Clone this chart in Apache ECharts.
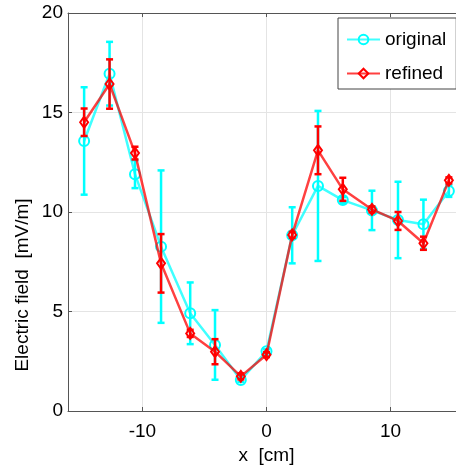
<!DOCTYPE html>
<html>
<head>
<meta charset="utf-8">
<script src="https://cdn.jsdelivr.net/npm/echarts@6.0.0/dist/echarts.min.js"></script>
<style>
html,body{margin:0;padding:0;background:#fff;}
#chart{width:456px;height:465px;}
</style>
</head>
<body>
<div id="chart"></div>
<script>
// ---- data ----
const xPositions = [-14.7, -12.65, -10.6, -8.5, -6.15, -4.15, -2.07, 0, 2.07, 4.15, 6.15, 8.5, 10.6, 12.65, 14.7];
const originalValues = [13.57, 16.95, 11.9, 8.26, 4.91, 3.32, 1.56, 3.0, 8.83, 11.31, 10.6, 10.08, 9.6, 9.38, 11.06];
const originalErrors = [2.7, 1.6, 0.7, 3.83, 1.55, 1.75, 0.1, 0.1, 1.41, 3.77, 0.15, 0.99, 1.92, 1.24, 0.3];
const refinedValues = [14.51, 16.43, 12.96, 7.42, 3.9, 2.98, 1.74, 2.83, 8.85, 13.1, 11.14, 10.13, 9.55, 8.43, 11.59];
const refinedErrors = [0.69, 1.24, 0.32, 1.47, 0.18, 0.63, 0.15, 0.12, 0.15, 1.2, 0.58, 0.15, 0.45, 0.33, 0.15];
const xTicks = [-10, 0, 10];
const yTicks = [0, 5, 10, 15, 20];
const seriesNames = ['original', 'refined'];
const xLabel = 'x  [cm]';
const yLabel = 'Electric field  [mV/m]';

const FONT = 'Liberation Sans, Arial, Helvetica, sans-serif';
const CYAN = '#00ffff';
const RED = '#ff0000';

function lineData(vals) { return xPositions.map((x, i) => [x, vals[i]]); }
function errData(vals, errs) { return xPositions.map((x, i) => [x, vals[i] - errs[i], vals[i] + errs[i]]); }

function errRender(color) {
  return function (params, api) {
    const x = api.value(0), lo = api.value(1), hi = api.value(2);
    const pLo = api.coord([x, lo]);
    const pHi = api.coord([x, hi]);
    const cap = 3.5;
    const st = { stroke: color, lineWidth: 2.5, fill: null };
    return {
      type: 'group',
      children: [
        { type: 'line', shape: { x1: pLo[0], y1: pLo[1], x2: pHi[0], y2: pHi[1] }, style: st },
        { type: 'line', shape: { x1: pLo[0] - cap, y1: pLo[1], x2: pLo[0] + cap, y2: pLo[1] }, style: st },
        { type: 'line', shape: { x1: pHi[0] - cap, y1: pHi[1], x2: pHi[0] + cap, y2: pHi[1] }, style: st }
      ]
    };
  };
}

const chart = echarts.init(document.getElementById('chart'), null, { renderer: 'canvas' });
const axisColor = '#555';
const gridColor = '#e4e4e4';

const option = {
  animation: false,
  backgroundColor: '#fff',
  textStyle: { fontFamily: FONT },
  grid: { left: 68, top: 13, width: 397, height: 398, containLabel: false, outerBoundsMode: 'none' },
  legend: {
    data: seriesNames,
    left: 338, top: 18,
    orient: 'vertical',
    backgroundColor: '#fff',
    borderColor: '#444', borderWidth: 1,
    padding: [12, 10, 6, 8],
    itemWidth: 33, itemHeight: 12, itemGap: 15,
    textStyle: { fontSize: 19, color: '#000', fontFamily: FONT }
  },
  xAxis: [
    {
      type: 'value', min: -16, max: 16, position: 'bottom',
      name: xLabel, nameLocation: 'middle', nameGap: 27,
      nameTextStyle: { fontSize: 19, color: '#000', fontFamily: FONT },
      axisLine: { show: true, onZero: false, lineStyle: { color: axisColor, width: 1 } },
      axisTick: { show: true, inside: true, length: 4, customValues: xTicks, lineStyle: { color: axisColor } },
      axisLabel: { customValues: xTicks, fontSize: 19, color: '#000', margin: 11, fontFamily: FONT },
      splitLine: { show: true, customValues: xTicks, lineStyle: { color: gridColor, width: 1 } }
    },
    {
      type: 'value', min: -16, max: 16, position: 'top',
      axisLine: { show: true, onZero: false, lineStyle: { color: axisColor, width: 1 } },
      axisTick: { show: true, inside: true, length: 4, customValues: xTicks, lineStyle: { color: axisColor } },
      axisLabel: { show: false },
      splitLine: { show: false }
    }
  ],
  yAxis: [
    {
      type: 'value', min: 0, max: 20, interval: 5,
      axisLine: { show: true, onZero: false, lineStyle: { color: axisColor, width: 1 } },
      axisTick: { show: true, inside: true, length: 4, lineStyle: { color: axisColor } },
      axisLabel: { fontSize: 19, color: '#000', margin: 5, fontFamily: FONT },
      splitLine: { show: true, lineStyle: { color: gridColor, width: 1 } }
    }
  ],
  graphic: [
    {
      type: 'text', x: 23, y: 285, rotation: Math.PI / 2,
      style: { text: yLabel, font: '19px ' + FONT, fill: '#000', align: 'center', verticalAlign: 'middle' }
    }
  ],
  series: [
    {
      name: seriesNames[0], type: 'line', data: lineData(originalValues), z: 2,
      symbol: 'circle', symbolSize: 10, showSymbol: true,
      lineStyle: { color: CYAN, width: 2.5, opacity: 0.75 },
      itemStyle: { color: 'rgba(255,255,255,0)', borderColor: CYAN, borderWidth: 2 },
      emphasis: { disabled: true }
    },
    {
      name: 'original-err', type: 'custom', data: errData(originalValues, originalErrors), z: 3,
      renderItem: errRender(CYAN), silent: true
    },
    {
      name: seriesNames[1], type: 'line', data: lineData(refinedValues), z: 4,
      symbol: 'diamond', symbolSize: [8, 11], showSymbol: true,
      lineStyle: { color: RED, width: 2.5, opacity: 0.75 },
      itemStyle: { color: 'rgba(255,255,255,0)', borderColor: RED, borderWidth: 2 },
      emphasis: { disabled: true }
    },
    {
      name: 'refined-err', type: 'custom', data: errData(refinedValues, refinedErrors), z: 5,
      renderItem: errRender(RED), silent: true
    }
  ]
};
chart.setOption(option);
</script>
</body>
</html>
